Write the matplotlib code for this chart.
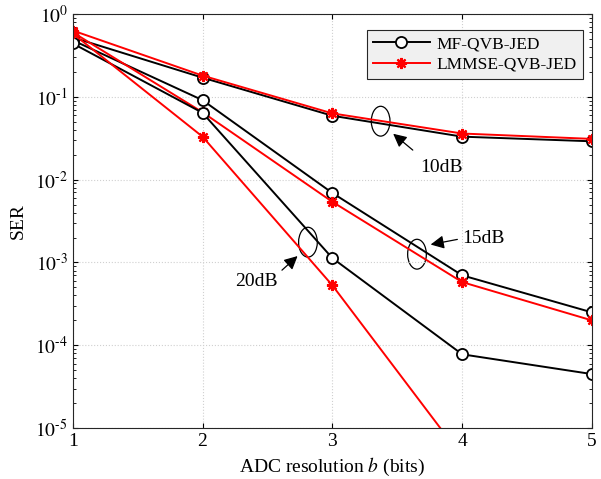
import numpy as np
import matplotlib.pyplot as plt
from matplotlib.patches import Ellipse
from matplotlib.ticker import FuncFormatter

plt.rcParams['font.family'] = 'Liberation Serif'
plt.rcParams['mathtext.fontset'] = 'stix'

# ADC resolution (bits)
bits = [1, 2, 3, 4, 5]
bits_20_lmmse = [1, 2, 3, 4]

# SER values
mf_10 = [0.52, 0.17, 0.059, 0.033, 0.029]
lmmse_10 = [0.63, 0.18, 0.063, 0.036, 0.031]
mf_15 = [0.48, 0.091, 0.0069, 0.00070, 0.00025]
lmmse_15 = [0.60, 0.065, 0.0054, 0.00058, 0.00020]
mf_20 = [0.44, 0.064, 0.00113, 0.000078, 0.000045]
lmmse_20 = [0.58, 0.033, 0.00053, 0.0000045]

fig = plt.figure(figsize=(6.01, 4.79), dpi=100)
ax = fig.add_axes([0.121, 0.106, 0.864, 0.865])

mf_style = dict(color='black', marker='o', markersize=8, markerfacecolor='white',
                markeredgewidth=1.3, linewidth=1.4)
lm_style = dict(color='red', marker=(8, 2, 0), markersize=8, markeredgewidth=1.6, linewidth=1.4)

ax.plot(bits, mf_10, label='MF-QVB-JED', **mf_style)
ax.plot(bits, lmmse_10, label='LMMSE-QVB-JED', **lm_style)
ax.plot(bits, mf_15, **mf_style)
ax.plot(bits, lmmse_15, **lm_style)
ax.plot(bits, mf_20, **mf_style)
ax.plot(bits_20_lmmse, lmmse_20, **lm_style)

ax.set_yscale('log')
ax.set_xlim(1, 5)
ax.set_ylim(1e-5, 1)
ax.set_xticks([1, 2, 3, 4, 5])


def log_fmt(v, pos):
    n = int(round(np.log10(v)))
    if n == 0:
        return '$10^{0}$'
    return '$10^{\u2010' + str(-n) + '}$'


ax.yaxis.set_major_formatter(FuncFormatter(log_fmt))
ax.set_xlabel('ADC resolution $b$ (bits)', fontsize=14)
ax.set_ylabel('SER', fontsize=14, labelpad=6)
ax.tick_params(which='both', direction='in', top=True, right=True, labelsize=14)
ax.grid(True, which='major', linestyle=':', color='#d0d0d0', linewidth=0.8)
for s in ax.spines.values():
    s.set_linewidth(0.8)
    s.set_color('#262626')

leg = ax.legend(loc='upper right', bbox_to_anchor=(0.983, 0.961), borderaxespad=0,
                fontsize=12.5, fancybox=False, framealpha=1, handlelength=3.3,
                borderpad=0.35, labelspacing=0.25, handletextpad=0.4)
leg.get_frame().set_facecolor('#f0f0f0')
leg.get_frame().set_edgecolor('#262626')
leg.get_frame().set_linewidth(0.8)

# SNR annotations: ellipse, arrow and label
notes = [
    ('10dB', (0.593, 0.741), (0.613, 0.715), (0.659, 0.667), (0.669, 0.630), 'left'),
    ('15dB', (0.663, 0.420), (0.684, 0.442), (0.746, 0.457), (0.751, 0.459), 'left'),
    ('20dB', (0.453, 0.449), (0.437, 0.420), (0.399, 0.377), (0.353, 0.353), 'center'),
]
for label, c, head, tail, txt, ha in notes:
    ax.add_patch(Ellipse(c, 0.036, 0.072, transform=ax.transAxes, fill=False,
                         edgecolor='black', linewidth=0.9))
    ax.annotate('', xy=head, xycoords='axes fraction', xytext=tail, textcoords='axes fraction',
                arrowprops=dict(arrowstyle='-|>', color='black', lw=0.9, mutation_scale=20))
    ax.text(txt[0], txt[1], label, transform=ax.transAxes, fontsize=14, ha=ha, va='center')

fig.savefig('out.png', dpi=100)
